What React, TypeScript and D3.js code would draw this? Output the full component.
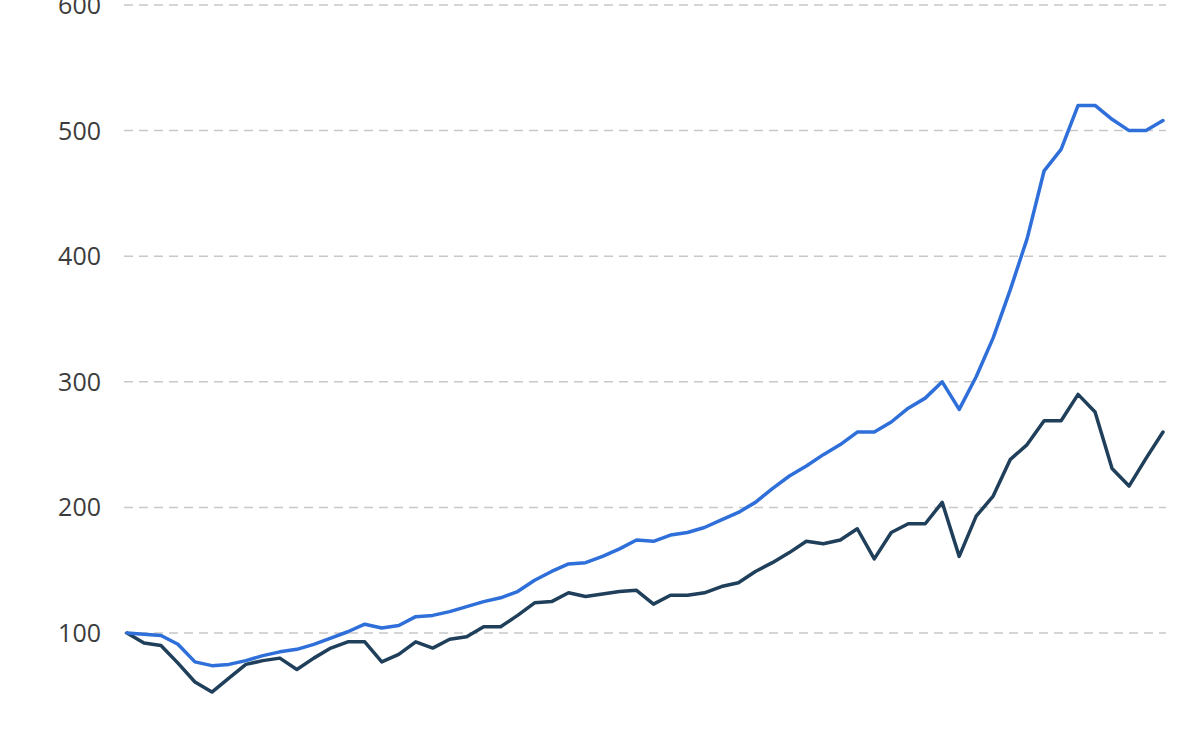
import { useRef, useEffect } from 'react';
import * as d3 from 'd3';

// Index values (start = 100), 62 quarterly observations
const blueSeries = [
    100, 99, 98, 91, 77, 74, 75, 78, 82, 85,
    87, 91, 96, 101, 107, 104, 106, 113, 114, 117,
    121, 125, 128, 133, 142, 149, 155, 156, 161, 167,
    174, 173, 178, 180, 184, 190, 196, 204, 215, 225,
    233, 242, 250, 260, 260, 268, 279, 287, 300, 278,
    304, 335, 373, 414, 468, 485, 520, 520, 509, 500,
    500, 508,
];

const darkSeries = [
    100, 92, 90, 76, 61, 53, 64, 75, 78, 80,
    71, 80, 88, 93, 93, 77, 83, 93, 88, 95,
    97, 105, 105, 114, 124, 125, 132, 129, 131, 133,
    134, 123, 130, 130, 132, 137, 140, 149, 156, 164,
    173, 171, 174, 183, 159, 180, 187, 187, 204, 161,
    193, 209, 238, 250, 269, 269, 290, 276, 231, 217,
    239, 260,
];

const yTicks = [100, 200, 300, 400, 500, 600];

const seriesList = [
    { name: 'dark', values: darkSeries, color: '#1f3f5a' },
    { name: 'blue', values: blueSeries, color: '#2f6fd9' },
];

export default function App() {
    const chartRef = useRef<SVGSVGElement>(null);

    useEffect(() => {
        if (!chartRef.current) return;

        const svg = d3.select(chartRef.current);
        svg.selectAll('*').remove();

        const width = 1200;
        const height = 750;

        // Scales
        const xScale = d3.scaleLinear()
            .domain([0, blueSeries.length - 1])
            .range([127, 1163]);

        const yScale = d3.scaleLinear()
            .domain([100, 600])
            .range([633, 5]);

        svg.attr('width', width).attr('height', height);

        // Grid lines
        svg.append('g')
            .selectAll('line')
            .data(yTicks)
            .enter()
            .append('line')
            .attr('x1', 124)
            .attr('x2', 1166)
            .attr('y1', d => yScale(d))
            .attr('y2', d => yScale(d))
            .style('stroke', '#c8c8c8')
            .style('stroke-width', 1.5)
            .style('stroke-dasharray', '9,6');

        // Y axis labels
        svg.append('g')
            .selectAll('text')
            .data(yTicks)
            .enter()
            .append('text')
            .attr('x', 101)
            .attr('y', d => yScale(d))
            .attr('dy', '0.36em')
            .attr('text-anchor', 'end')
            .style('font-family', '"Open Sans", "Noto Sans", sans-serif')
            .style('font-size', '25px')
            .style('fill', '#3c3c3c')
            .text(d => d);

        // Lines
        const line = d3.line<number>()
            .x((_, i) => xScale(i))
            .y(d => yScale(d));

        seriesList.forEach(s => {
            svg.append('path')
                .datum(s.values)
                .attr('d', line)
                .style('fill', 'none')
                .style('stroke', s.color)
                .style('stroke-width', 3.5)
                .style('stroke-linejoin', 'round')
                .style('stroke-linecap', 'round');
        });
    }, []);

    return (
        <div style={{ position: 'absolute', left: 0, top: 0, width: 1200, height: 750, background: '#fff' }}>
            <svg ref={chartRef} style={{ display: 'block' }} />
        </div>
    );
}
